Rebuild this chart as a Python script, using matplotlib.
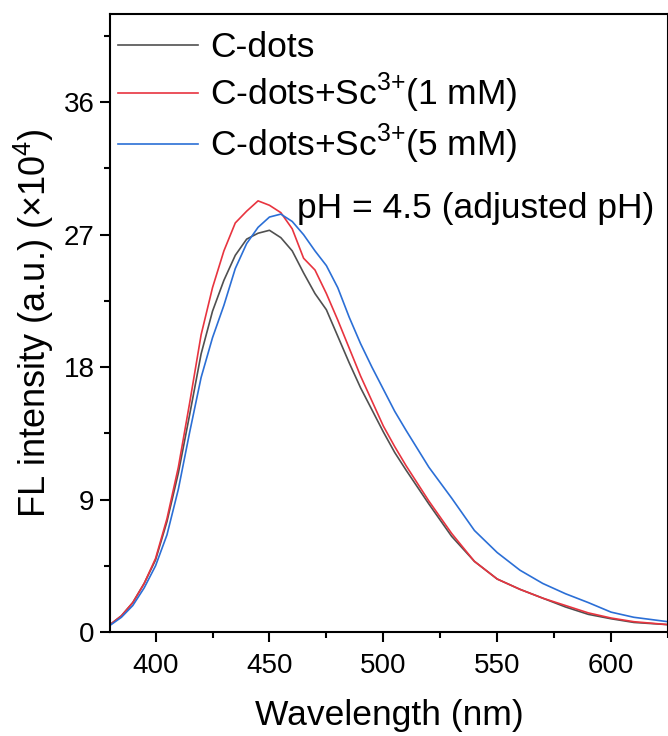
import numpy as np
import matplotlib
matplotlib.use("Agg")
import matplotlib.pyplot as plt
from matplotlib.ticker import MultipleLocator

plt.rcParams['font.family'] = ['Liberation Sans', 'DejaVu Sans']
plt.rcParams['mathtext.fontset'] = 'custom'
plt.rcParams['mathtext.rm'] = 'Liberation Sans'

# wavelength grid (nm) and intensities (x10^4)
wl = [380, 385, 390, 395, 400, 405, 410, 415, 420, 425, 430, 435, 440, 445,
      450, 455, 460, 465, 470, 475, 480, 485, 490, 495, 500, 505, 510, 520,
      530, 540, 550, 560, 570, 580, 590, 600, 610, 625]

cdots = [0.5, 1.1, 2.0, 3.3, 4.9, 7.5, 10.8, 14.8, 18.9, 21.8, 23.9, 25.6, 26.7, 27.1,
         27.3, 26.8, 25.9, 24.4, 23.0, 21.9, 20.1, 18.3, 16.6, 15.1, 13.6, 12.2, 11.0, 8.7,
         6.5, 4.8, 3.6, 2.9, 2.3, 1.7, 1.2, 0.9, 0.65, 0.5]

sc_1mm = [0.5, 1.1, 2.0, 3.3, 5.0, 7.7, 11.2, 15.6, 20.2, 23.4, 25.9, 27.8, 28.6, 29.3,
          29.0, 28.5, 27.4, 25.4, 24.6, 23.0, 21.2, 19.3, 17.4, 15.7, 14.0, 12.6, 11.3, 8.9,
          6.7, 4.8, 3.6, 2.9, 2.3, 1.8, 1.3, 0.95, 0.7, 0.5]

sc_5mm = [0.45, 1.0, 1.8, 3.0, 4.5, 6.6, 9.7, 13.6, 17.3, 20.0, 22.2, 24.7, 26.4, 27.5,
          28.2, 28.4, 27.9, 27.0, 25.9, 24.9, 23.4, 21.4, 19.6, 18.0, 16.5, 15.0, 13.7, 11.2,
          9.1, 6.9, 5.4, 4.2, 3.3, 2.6, 2.0, 1.35, 1.0, 0.7]

labels = ['C-dots', 'C-dots+Sc$^{3{+}}$(1 mM)', 'C-dots+Sc$^{3{+}}$(5 mM)']
colors = ['#505050', '#e8343f', '#2b6fd6']

fig = plt.figure(figsize=(6.68, 7.36), dpi=100)
ax = fig.add_axes([0.1647, 0.1413, 0.8353, 0.8397])

for ys, lab, c in zip([cdots, sc_1mm, sc_5mm], labels, colors):
	ax.plot(wl, ys, color=c, lw=1.2, label=lab)

ax.set_xlim(380, 625)
ax.set_ylim(0, 42)
ax.xaxis.set_major_locator(MultipleLocator(50))
ax.xaxis.set_minor_locator(MultipleLocator(25))
ax.yaxis.set_major_locator(MultipleLocator(9))
ax.yaxis.set_minor_locator(MultipleLocator(4.5))

for s in ax.spines.values():
	s.set_linewidth(1.5)
ax.tick_params(which='both', direction='out', top=False, right=False, width=1.5, labelsize=20)
ax.tick_params(which='major', length=7)
ax.tick_params(which='minor', length=4)
ax.tick_params(axis='x', pad=8)
ax.tick_params(axis='y', pad=4)

ax.set_xlabel('Wavelength (nm)', fontsize=25.5)
ax.set_ylabel('FL intensity (a.u.) (\u00d710$^{4}$)', fontsize=26)
ax.xaxis.set_label_coords(0.5, -0.108)
ax.yaxis.set_label_coords(-0.096, 0.5)

ax.legend(loc='upper left', bbox_to_anchor=(0.0143, 0.972), frameon=False, fontsize=25.5,
          handlelength=2.26, handletextpad=0.34, labelspacing=0.19, borderaxespad=0.0,
          borderpad=0.0)

ax.text(462, 28.8, 'pH = 4.5 (adjusted pH)', fontsize=25.5, va='center', ha='left')

fig.savefig('out.png', dpi=100)
